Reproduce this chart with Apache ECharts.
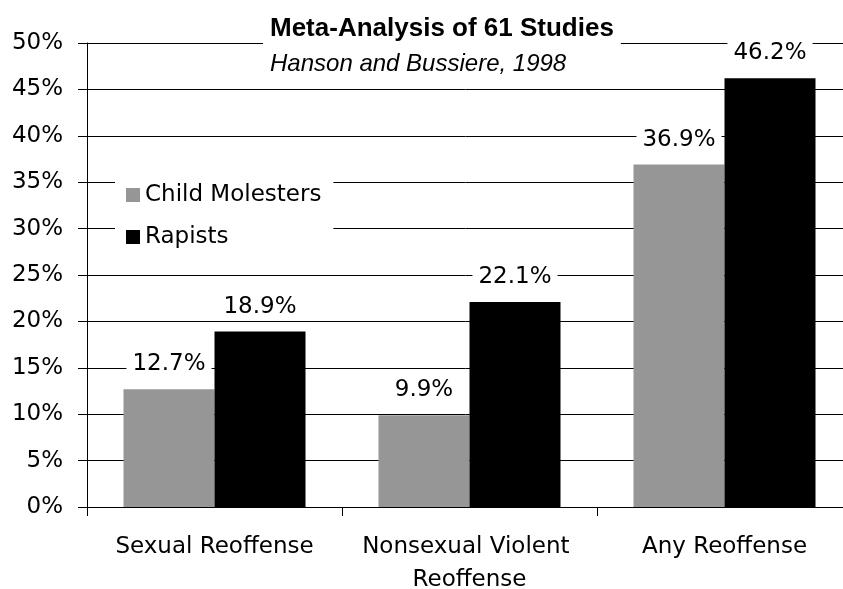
<!DOCTYPE html>
<html>
<head>
<meta charset="utf-8">
<script src="https://cdn.jsdelivr.net/npm/echarts@6/dist/echarts.min.js"></script>
<style>
  html, body { margin: 0; padding: 0; background: #fff; }
  #chart { width: 843px; height: 589px; }
</style>
</head>
<body>
<div id="chart"></div>
<script>
const categories = ['Sexual Reoffense', 'Nonsexual Violent Reoffense', 'Any Reoffense']
const childMolesters = [12.7, 9.9, 36.9]
const rapists = [18.9, 22.1, 46.2]
const yTicks = [0, 50, 5] // min, max, step (%)

const FONT = '"DejaVu Sans", Verdana, sans-serif'
const TITLE_FONT = '"Liberation Sans", Arial, sans-serif'

let chartDom = document.getElementById('chart')
let myChart = echarts.init(chartDom, null, {renderer: 'canvas'})

// labels above bars sit in a white box that cuts the grid lines
const barLabel = {
  show: true,
  position: 'top',
  distance: 11,
  formatter: (p) => p.value.toFixed(1) + '%',
  color: '#000',
  fontFamily: FONT,
  fontSize: 23,
  lineHeight: 26,
  backgroundColor: '#fff',
  padding: [1, 6]
}

let option = {
  backgroundColor: '#fff',
  animation: false,
  title: {
    text: 'Meta-Analysis of 61 Studies',
    subtext: 'Hanson and Bussiere, 1998',
    left: 263,
    top: 14,
    padding: [2, 7, 2, 7],
    itemGap: 9,
    backgroundColor: '#fff',
    textStyle: {
      fontFamily: TITLE_FONT,
      fontSize: 26,
      fontWeight: 'bold',
      color: '#000',
      lineHeight: 26
    },
    subtextStyle: {
      fontFamily: TITLE_FONT,
      fontSize: 24,
      fontStyle: 'italic',
      color: '#000',
      lineHeight: 26
    }
  },
  legend: {
    orient: 'vertical',
    left: 115,
    top: 171,
    padding: [10, 12, 10, 11],
    backgroundColor: '#fff',
    itemWidth: 14,
    itemHeight: 14,
    itemGap: 14,
    icon: 'rect',
    textStyle: {
      fontFamily: FONT,
      fontSize: 23,
      color: '#000',
      lineHeight: 28
    },
    data: ['Child Molesters', 'Rapists']
  },
  grid: {
    left: 87,
    top: 43,
    width: 765,
    height: 464,
    containLabel: false,
    outerBoundsMode: 'none'
  },
  xAxis: {
    type: 'category',
    data: categories,
    axisLine: {lineStyle: {color: '#000', width: 1}},
    axisTick: {show: true, length: 9, lineStyle: {color: '#000'}},
    axisLabel: {
      color: '#000',
      fontFamily: FONT,
      fontSize: 23,
      lineHeight: 33,
      margin: 24,
      width: 235,
      overflow: 'break',
      interval: 0
    }
  },
  yAxis: {
    type: 'value',
    min: yTicks[0],
    max: yTicks[1],
    interval: yTicks[2],
    axisLine: {show: true, lineStyle: {color: '#000', width: 1}},
    axisTick: {show: true, length: 9, lineStyle: {color: '#000'}},
    axisLabel: {
      formatter: '{value}%',
      color: '#000',
      fontFamily: FONT,
      fontSize: 23,
      margin: 24
    },
    splitLine: {show: true, lineStyle: {color: '#000', width: 1}}
  },
  series: [
    {
      name: 'Child Molesters',
      type: 'bar',
      data: childMolesters,
      barWidth: 91,
      barGap: '0%',
      itemStyle: {color: '#969696'},
      label: barLabel
    },
    {
      name: 'Rapists',
      type: 'bar',
      data: rapists,
      barWidth: 91,
      barGap: '0%',
      itemStyle: {color: '#000'},
      label: barLabel
    }
  ]
}

option && myChart.setOption(option)
</script>
</body>
</html>
